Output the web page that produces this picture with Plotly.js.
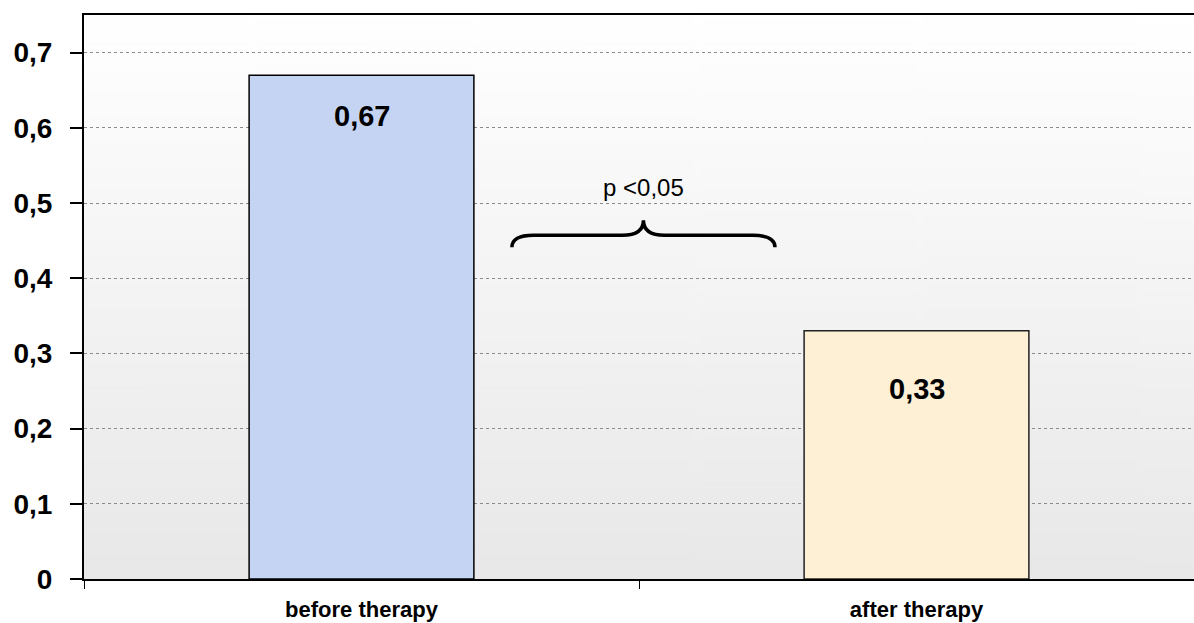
<!DOCTYPE html>
<html>
<head>
<meta charset="utf-8">
<script src="https://cdn.plot.ly/plotly-3.0.1.min.js"></script>
<style>html,body{margin:0;padding:0;background:#fff;}#chart{width:1194px;height:623px;}</style>
</head>
<body>
<div id="chart"></div>
<script>
const categories = ["before therapy", "after therapy"];
const values = [0.67, 0.33];
const barColors = ["#c5d4f3", "#fdf0d5"];
const barLineColors = ["#000000", "#222222"];
const labelShift = [-41, -58];
const pText = "p <0,05";

// vertical gradient for plot background
const cv = document.createElement("canvas");
cv.width = 10; cv.height = 200;
const ctx = cv.getContext("2d");
const g = ctx.createLinearGradient(0, 0, 0, 200);
g.addColorStop(0, "#ffffff");
g.addColorStop(1, "#e8e8e8");
ctx.fillStyle = g; ctx.fillRect(0, 0, 10, 200);
const bgURL = cv.toDataURL("image/png");

const font = "Liberation Sans, Arial, sans-serif";

const trace = {
  type: "bar",
  x: categories,
  y: values,
  marker: {color: barColors, line: {color: barLineColors, width: 1.5}},
  hoverinfo: "skip",
  showlegend: false
};

const annotations = categories.map((c, i) => ({
  x: c, y: values[i], xref: "x", yref: "y",
  text: values[i].toFixed(2).replace(".", ","),
  showarrow: false, yshift: labelShift[i],
  font: {family: font, size: 29, color: "#000", weight: "bold"}
}));
annotations.push({
  x: 0.508, y: 0.5, xref: "x", yref: "y",
  text: pText, showarrow: false, yshift: 16,
  font: {family: font, size: 24, color: "#000"}
});

const brace = "M 0.271,0.441 Q 0.271,0.457 0.31,0.457 L 0.47,0.457 Q 0.508,0.457 0.508,0.477 " +
              "Q 0.508,0.457 0.546,0.457 L 0.705,0.457 Q 0.745,0.457 0.745,0.441";

const layout = {
  width: 1194, height: 623,
  margin: {l: 84, r: 0, t: 15, b: 44, pad: 0},
  paper_bgcolor: "#ffffff",
  plot_bgcolor: "rgba(0,0,0,0)",
  separators: ", ",
  bargap: 0.595,
  images: [{source: bgURL, xref: "paper", yref: "paper", x: 0, y: 1, sizex: 1, sizey: 1,
            sizing: "stretch", layer: "below", xanchor: "left", yanchor: "top"}],
  xaxis: {
    type: "category", range: [-0.5, 1.5],
    showline: true, linecolor: "#000", linewidth: 2, mirror: true,
    ticks: "outside", tickson: "boundaries", ticklen: 8, tickcolor: "#000", tickwidth: 1,
    ticklabelstandoff: 10,
    showgrid: false, zeroline: false,
    tickfont: {family: font, size: 22, color: "#000", weight: "bold"}
  },
  yaxis: {
    range: [0, 0.75], dtick: 0.1, tick0: 0,
    showline: true, linecolor: "#000", linewidth: 2, mirror: true,
    ticks: "outside", ticklen: 12, tickcolor: "#000", tickwidth: 2,
    ticklabelstandoff: 12,
    showgrid: true, gridcolor: "#8a8a8a", griddash: "dot", gridwidth: 1,
    zeroline: false,
    tickfont: {family: font, size: 28, color: "#000", weight: "bold"}
  },
  annotations: annotations,
  shapes: [{type: "path", xref: "x", yref: "y", path: brace,
            line: {color: "#000", width: 3.5}, fillcolor: "rgba(0,0,0,0)"}]
};

Plotly.newPlot("chart", [trace], layout, {displayModeBar: false, staticPlot: true});
</script>
</body>
</html>
